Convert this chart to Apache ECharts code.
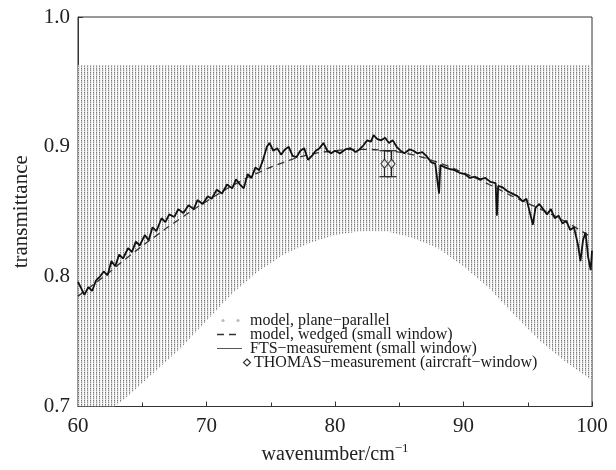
<!DOCTYPE html>
<html><head><meta charset="utf-8">
<script src="https://cdn.jsdelivr.net/npm/echarts@6/dist/echarts.min.js"></script>
<style>html,body{margin:0;padding:0;background:#fff}#c{width:616px;height:470px}</style>
</head><body><div id="c"></div>
<script>
// ---- data ----
const envX     = [60, 62, 64, 66, 68, 70, 72, 74, 76, 78, 80, 82, 84, 86, 88, 90, 92, 94, 96, 98, 100];
const envLower = [0.675, 0.693, 0.709, 0.727, 0.745, 0.766, 0.787, 0.804, 0.817, 0.826, 0.832, 0.835, 0.835, 0.830, 0.822, 0.808, 0.791, 0.770, 0.750, 0.734, 0.720];
const envUpper = [0.963, 0.963, 0.963, 0.963, 0.963, 0.963, 0.963, 0.963, 0.963, 0.963, 0.963, 0.963, 0.963, 0.963, 0.963, 0.963, 0.963, 0.963, 0.963, 0.963, 0.963];

const wedgedX = [60, 62, 64, 66, 68, 70, 72, 74, 76, 78, 80, 82, 84, 86, 88, 90, 92, 94, 96, 98, 100];
const wedgedY = [0.785, 0.800, 0.816, 0.831, 0.845, 0.858, 0.870, 0.880, 0.888, 0.894, 0.897, 0.898, 0.897, 0.894, 0.888, 0.880, 0.871, 0.861, 0.852, 0.842, 0.830];

const ftsX = [60.0,60.3,60.5,60.8,61.1,61.4,61.7,62.0,62.3,62.6,62.9,63.2,63.5,63.9,64.2,64.5,64.8,65.2,65.5,65.8,
  66.1,66.5,66.8,67.1,67.5,67.8,68.2,68.6,69.0,69.3,69.7,70.1,70.4,70.8,71.2,71.6,72.0,72.3,72.6,72.9,
  73.2,73.5,73.8,74.1,74.4,74.7,74.9,75.2,75.5,75.8,76.1,76.4,76.7,77.0,77.3,77.6,77.9,78.2,78.5,78.8,
  79.1,79.4,79.7,80.0,80.4,80.8,81.2,81.6,81.9,82.2,82.5,82.8,83.0,83.3,83.6,83.9,84.2,84.5,84.8,85.1,
  85.4,85.8,86.1,86.4,86.8,87.1,87.5,87.8,88.1,88.2,88.6,88.9,89.3,89.7,90.1,90.5,90.9,91.3,91.7,92.1,
  92.5,92.6,92.7,93.0,93.4,93.8,94.2,94.6,94.9,95.2,95.4,95.6,95.9,96.2,96.5,96.8,97.1,97.4,97.7,98.0,
  98.3,98.6,98.9,99.1,99.3,99.5,99.7,99.9,100.0];
const ftsY = [0.796,0.790,0.786,0.792,0.789,0.797,0.800,0.804,0.801,0.812,0.808,0.817,0.814,0.822,0.819,0.827,0.824,0.832,0.828,0.838,
  0.835,0.845,0.842,0.848,0.846,0.852,0.849,0.855,0.852,0.859,0.856,0.862,0.860,0.867,0.864,0.871,0.868,0.875,0.871,0.868,
  0.879,0.876,0.884,0.882,0.890,0.900,0.903,0.897,0.899,0.894,0.898,0.900,0.893,0.892,0.897,0.899,0.890,0.893,0.897,0.899,
  0.903,0.897,0.895,0.897,0.895,0.898,0.899,0.896,0.898,0.901,0.905,0.904,0.909,0.906,0.905,0.907,0.903,0.905,0.900,0.897,
  0.895,0.898,0.897,0.895,0.896,0.893,0.888,0.887,0.864,0.886,0.884,0.883,0.882,0.880,0.879,0.876,0.877,0.875,0.876,0.873,
  0.872,0.847,0.870,0.869,0.866,0.864,0.862,0.858,0.860,0.848,0.840,0.853,0.856,0.852,0.848,0.852,0.845,0.847,0.841,0.843,
  0.836,0.838,0.825,0.812,0.828,0.834,0.815,0.805,0.820];

const thomasX    = [83.85, 84.4];
const thomasY    = [0.887, 0.887];
const thomasLow  = [0.877, 0.877];
const thomasHigh = [0.897, 0.897];

const xTicks = [60, 70, 80, 90, 100];
const yTicks = [0.7, 0.8, 0.9, 1.0];

const legendNames = ['model, plane\u2212parallel', 'model, wedged (small window)', 'FTS\u2212measurement (small window)', 'THOMAS\u2212measurement (aircraft\u2212window)'];

// ---- build ----
const FONT = '"Liberation Serif", "DejaVu Serif", serif';
const tile = document.createElement('canvas');
tile.width = 3; tile.height = 4;
(function(){
  const g = tile.getContext('2d');
  g.fillStyle = '#ffffff'; g.fillRect(0,0,3,4);
  g.fillStyle = '#eeeeee'; g.fillRect(1,0,1,4);
  const col = ['#7a7a7a','#b4b4b4','#8e8e8e','#d6d6d6'];
  for (let i=0;i<4;i++){ g.fillStyle = col[i]; g.fillRect(0,i,1,1); }
})();
const fringeFill = {image: tile, repeat: 'repeat'};

const wedgedData = wedgedX.map((x,i)=>[x, wedgedY[i]]);
const ftsData = ftsX.map((x,i)=>[x, ftsY[i]]);
const thomasData = thomasX.map((x,i)=>[x, thomasY[i]]);
const errData = thomasX.map((x,i)=>[x, thomasLow[i], thomasHigh[i]]);

const chart = echarts.init(document.getElementById('c'), null, {renderer:'canvas'});

const legendTextX = 250, rowY = [320.5, 334.5, 348.5, 362.5];
const graphics = [];
graphics.push({type:'circle', shape:{cx:223, cy:rowY[0], r:1.6}, style:{fill:'#bbb'}});
graphics.push({type:'circle', shape:{cx:238, cy:rowY[0], r:1.6}, style:{fill:'#bbb'}});
graphics.push({type:'line', shape:{x1:217, y1:rowY[1], x2:237, y2:rowY[1]}, style:{stroke:'#333', lineWidth:1.3, lineDash:[7,5]}});
graphics.push({type:'line', shape:{x1:217, y1:rowY[2], x2:242, y2:rowY[2]}, style:{stroke:'#555', lineWidth:1}});
graphics.push({type:'polygon', shape:{points:[[247,rowY[3]-3.5],[250.5,rowY[3]],[247,rowY[3]+3.5],[243.5,rowY[3]]]}, style:{fill:'#fff', stroke:'#333', lineWidth:1.2}});
legendNames.forEach((t,i)=>{
  graphics.push({type:'text', x: i===3 ? 254 : legendTextX, y: rowY[i], style:{text:t, font:'16px ' + FONT, fill:'#1a1a1a', verticalAlign:'middle', align:'left'}});
});

chart.setOption({
  animation:false,
  backgroundColor:'#fff',
  grid:{left:78, top:17, right:24, bottom:59, show:true, borderColor:'#333', borderWidth:1},
  xAxis:{
    type:'value', min:xTicks[0], max:xTicks[xTicks.length-1], interval:10,
    name:'wavenumber/cm{sup|\u22121}', nameLocation:'middle', nameGap:36,
    nameTextStyle:{fontFamily:FONT, fontSize:20, color:'#222', rich:{sup:{fontFamily:FONT, fontSize:13, color:'#222', verticalAlign:'top', padding:[0,0,12,0]}}},
    axisLine:{lineStyle:{color:'#333', width:1}},
    axisTick:{inside:true, length:5, lineStyle:{color:'#333'}},
    minorTick:{show:true, splitNumber:2, length:4, lineStyle:{color:'#333'}},
    splitLine:{show:false},
    axisLabel:{fontFamily:FONT, fontSize:21, color:'#222', margin:9, formatter:v=>String(v)}
  },
  yAxis:{
    type:'value', min:yTicks[0], max:yTicks[yTicks.length-1], interval:0.1,
    name:'transmittance', nameLocation:'middle', nameGap:46, nameRotate:90,
    nameTextStyle:{fontFamily:FONT, fontSize:21, color:'#222'},
    axisLine:{lineStyle:{color:'#333', width:1}},
    axisTick:{inside:true, length:5, lineStyle:{color:'#333'}},
    splitLine:{show:false},
    axisLabel:{fontFamily:FONT, fontSize:21, color:'#222', margin:8, formatter:v=>v.toFixed(1)}
  },
  graphic: graphics,
  series:[
    {name:legendNames[0], type:'custom', data:[[envX[0], envUpper[0]]], clip:true, silent:true, z:1,
      renderItem:(params, api)=>{
        const pts = [];
        for (let i=0;i<envX.length;i++) pts.push(api.coord([envX[i], envUpper[i]]));
        for (let i=envX.length-1;i>=0;i--) pts.push(api.coord([envX[i], envLower[i]]));
        const cs = params.coordSys;
        return {type:'group', children:[{type:'polygon', shape:{points:pts}, style:{fill:fringeFill}}],
          clipPath:{type:'rect', shape:{x:cs.x, y:cs.y, width:cs.width, height:cs.height}}};
      }},
    {name:legendNames[1], type:'line', data:wedgedData, smooth:true, symbol:'none', lineStyle:{color:'#333', width:1.3, type:[7,5]}, z:3},
    {name:legendNames[2], type:'line', data:ftsData, symbol:'none', lineStyle:{color:'#111', width:1.8}, z:4},
    {name:legendNames[3]+' err', type:'custom', data:errData, z:5,
      renderItem:(params, api)=>{
        const x = api.value(0);
        const pLo = api.coord([x, api.value(1)]);
        const pHi = api.coord([x, api.value(2)]);
        const w = 5;
        const st = {stroke:'#222', lineWidth:1.2};
        return {type:'group', children:[
          {type:'line', shape:{x1:pLo[0], y1:pLo[1], x2:pHi[0], y2:pHi[1]}, style:st},
          {type:'line', shape:{x1:pLo[0]-w, y1:pLo[1], x2:pLo[0]+w, y2:pLo[1]}, style:st},
          {type:'line', shape:{x1:pHi[0]-w, y1:pHi[1], x2:pHi[0]+w, y2:pHi[1]}, style:st}
        ]};
      }},
    {name:legendNames[3], type:'scatter', data:thomasData, symbol:'diamond', symbolSize:[7,9],
      itemStyle:{color:'#fff', borderColor:'#222', borderWidth:1.2}, z:6}
  ]
});
</script>
</body></html>
